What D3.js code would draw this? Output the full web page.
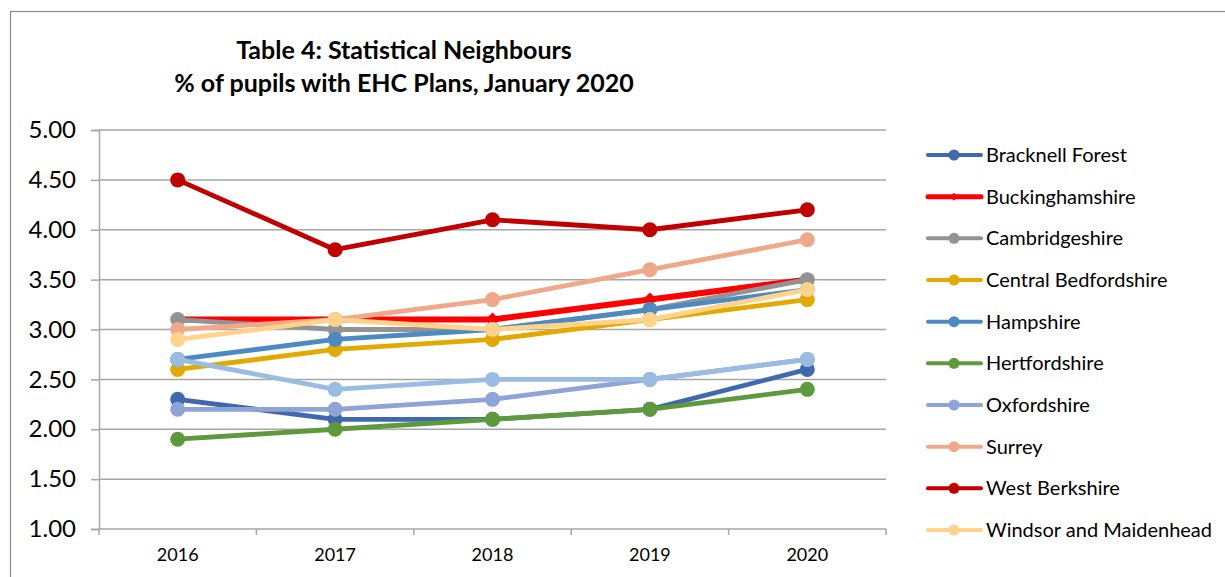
<!DOCTYPE html>
<html>
<head>
<meta charset="utf-8">
<script src="https://cdn.jsdelivr.net/npm/d3@7"></script>
<style>
  html, body { margin: 0; padding: 0; background: #fff; }
  svg { display: block; }
</style>
</head>
<body>
<svg id="chart" width="1225" height="577"></svg>
<script>
// Percentage of pupils with EHC plans, statistical neighbours, 2016-2020
const years = ["2016", "2017", "2018", "2019", "2020"];
const yTicks = [1.0, 1.5, 2.0, 2.5, 3.0, 3.5, 4.0, 4.5, 5.0];

const bracknellForest      = [2.3, 2.1, 2.1, 2.2, 2.6];
const buckinghamshire      = [3.1, 3.1, 3.1, 3.3, 3.5];
const cambridgeshire       = [3.1, 3.0, 3.0, 3.2, 3.5];
const centralBedfordshire  = [2.6, 2.8, 2.9, 3.1, 3.3];
const hampshire            = [2.7, 2.9, 3.0, 3.2, 3.4];
const hertfordshire        = [1.9, 2.0, 2.1, 2.2, 2.4];
const oxfordshire          = [2.2, 2.2, 2.3, 2.5, 2.7];
const surrey               = [3.0, 3.1, 3.3, 3.6, 3.9];
const westBerkshire        = [4.5, 3.8, 4.1, 4.0, 4.2];
const windsorMaidenhead    = [2.9, 3.1, 3.0, 3.1, 3.4];
const neighbourAverage     = [2.7, 2.4, 2.5, 2.5, 2.7];

const series = [
  { name: "Bracknell Forest",        values: bracknellForest,     color: "#4068ae", legend: true },
  { name: "Buckinghamshire",         values: buckinghamshire,     color: "#ff0000", legend: true, diamond: true, width: 6 },
  { name: "Cambridgeshire",          values: cambridgeshire,      color: "#939393", legend: true },
  { name: "Central Bedfordshire",    values: centralBedfordshire, color: "#e2aa00", legend: true },
  { name: "Hampshire",               values: hampshire,           color: "#4e8ac2", legend: true },
  { name: "Hertfordshire",           values: hertfordshire,       color: "#5f993d", legend: true },
  { name: "Oxfordshire",             values: oxfordshire,         color: "#8ea4d6", legend: true },
  { name: "Surrey",                  values: surrey,              color: "#f0a88b", legend: true },
  { name: "West Berkshire",          values: westBerkshire,       color: "#c00000", legend: true },
  { name: "Windsor and Maidenhead",  values: windsorMaidenhead,   color: "#ffd38a", legend: true },
  { name: "Neighbour average",       values: neighbourAverage,    color: "#9bbce2", legend: false }
];

const svg = d3.select("#chart");
const font = "Lato, 'Open Sans', sans-serif";

// chart frame
svg.append("rect")
  .attr("x", 10.5).attr("y", 11.5)
  .attr("width", 1240).attr("height", 600)
  .attr("fill", "none").attr("stroke", "#8c8c8c").attr("stroke-width", 1.2);

// title
const title = svg.append("text")
  .attr("text-anchor", "middle")
  .attr("font-family", font).attr("font-weight", "bold")
  .attr("font-size", 25).attr("fill", "#000");
title.append("tspan").attr("x", 404).attr("y", 59).text("Table 4: Statistical Neighbours");
title.append("tspan").attr("x", 404).attr("y", 92).text("% of pupils with EHC Plans, January 2020");

const plot = { left: 99, right: 886, top: 130, bottom: 529 };

const x = d3.scalePoint().domain(years).range([plot.left, plot.right]).padding(0.5);
const xBand = d3.scaleBand().domain(years).range([plot.left, plot.right]);
const y = d3.scaleLinear().domain([1, 5]).range([plot.bottom, plot.top]);

// horizontal gridlines
svg.append("g")
  .selectAll("line")
  .data(yTicks.filter(t => t > 1))
  .join("line")
  .attr("x1", plot.left).attr("x2", plot.right)
  .attr("y1", d => y(d)).attr("y2", d => y(d))
  .attr("stroke", "#a6a6a6").attr("stroke-width", 1.5);

// y axis
const yAxis = svg.append("g")
  .attr("transform", `translate(${plot.left},0)`)
  .call(d3.axisLeft(y).tickValues(yTicks).tickFormat(d3.format(".2f")).tickSize(8).tickPadding(15));
yAxis.select(".domain").attr("stroke", "#a6a6a6").attr("stroke-width", 1.5);
yAxis.selectAll(".tick line").attr("stroke", "#a6a6a6").attr("stroke-width", 1.5);
yAxis.selectAll(".tick text")
  .attr("font-family", font).attr("font-size", 24).attr("fill", "#000");

// x axis with tick marks on category boundaries
const xAxis = svg.append("g")
  .attr("transform", `translate(0,${plot.bottom})`);
xAxis.append("line")
  .attr("x1", plot.left).attr("x2", plot.right)
  .attr("stroke", "#a6a6a6").attr("stroke-width", 1.5);
const boundaries = years.map(d => xBand(d)).concat([xBand.range()[1]]);
xAxis.selectAll("line.tk")
  .data(boundaries)
  .join("line").attr("class", "tk")
  .attr("x1", d => d).attr("x2", d => d)
  .attr("y1", 0).attr("y2", 6)
  .attr("stroke", "#a6a6a6").attr("stroke-width", 1.5);
xAxis.selectAll("text")
  .data(years)
  .join("text")
  .attr("x", d => x(d)).attr("y", 32)
  .attr("text-anchor", "middle")
  .attr("font-family", font).attr("font-size", 18).attr("fill", "#000")
  .text(d => d);

// series lines and markers
const line = d3.line().x((d, i) => x(years[i])).y(d => y(d));
const diamond = d3.symbol().type(d3.symbolDiamond2).size(128);

series.forEach(s => {
  const g = svg.append("g");
  g.append("path")
    .attr("d", line(s.values))
    .attr("fill", "none")
    .attr("stroke", s.color)
    .attr("stroke-width", s.width || 4.8)
    .attr("stroke-linejoin", "round")
    .attr("stroke-linecap", "round");
  if (s.diamond) {
    g.selectAll("path.m")
      .data(s.values)
      .join("path").attr("class", "m")
      .attr("d", diamond)
      .attr("transform", (d, i) => `translate(${x(years[i])},${y(d)})`)
      .attr("fill", s.color);
  } else {
    g.selectAll("circle")
      .data(s.values)
      .join("circle")
      .attr("cx", (d, i) => x(years[i]))
      .attr("cy", d => y(d))
      .attr("r", 7.5)
      .attr("fill", s.color);
  }
});

// legend
const legendItems = series.filter(s => s.legend);
const legend = svg.append("g");
const rowY = d3.scalePoint().domain(legendItems.map(s => s.name)).range([155, 530]);
legendItems.forEach(s => {
  const ly = rowY(s.name);
  const row = legend.append("g").attr("transform", `translate(0,${ly})`);
  row.append("line")
    .attr("x1", 928).attr("x2", 981)
    .attr("stroke", s.color)
    .attr("stroke-width", s.diamond ? 5 : 4)
    .attr("stroke-linecap", "round");
  if (s.diamond) {
    row.append("path")
      .attr("d", d3.symbol().type(d3.symbolDiamond2).size(40)())
      .attr("transform", "translate(954,0)")
      .attr("fill", s.color);
  } else {
    row.append("circle").attr("cx", 954).attr("cy", 0).attr("r", 5.5).attr("fill", s.color);
  }
  row.append("text")
    .attr("x", 986).attr("y", 0).attr("dy", "0.35em")
    .attr("font-family", font).attr("font-size", 20).attr("fill", "#000")
    .text(s.name);
});
</script>
</body>
</html>
